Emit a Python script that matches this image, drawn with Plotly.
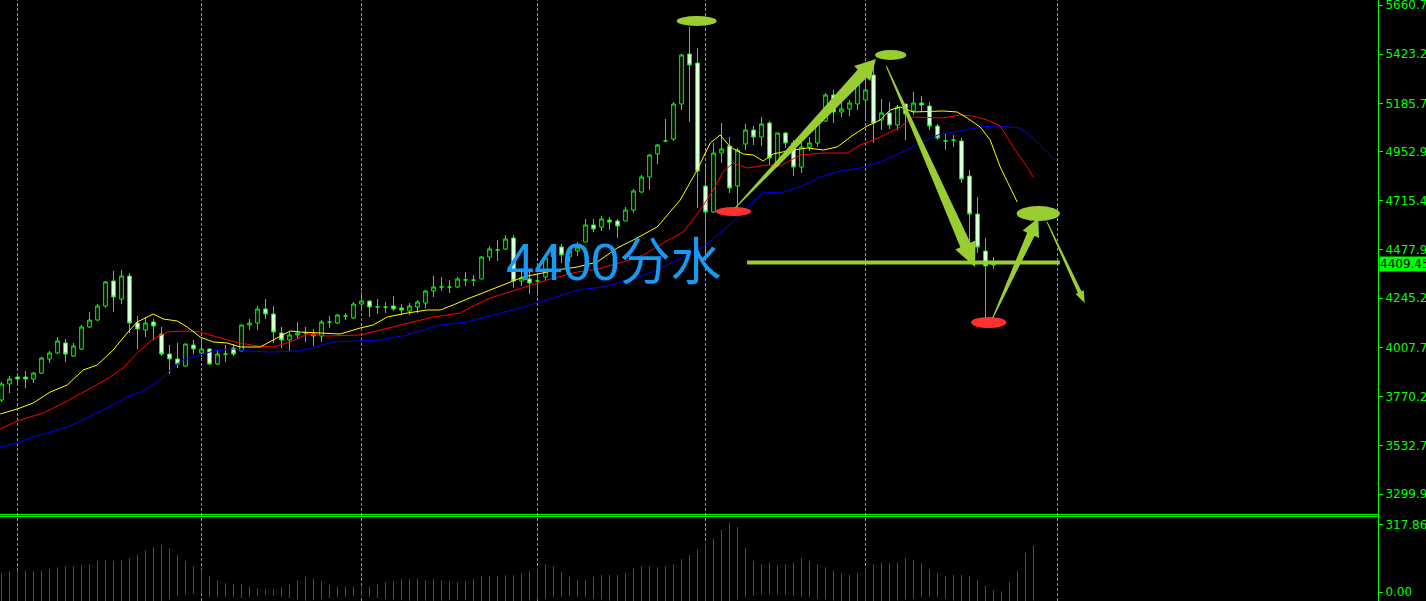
import math
import plotly.graph_objects as go

# ---------------- data ----------------
open_ = [3753.7,3831.0,3864.8,3864.8,3855.1,3884.1,3951.7,3980.6,4028.9,3966.1,
         3999.9,4106.2,4140.0,4207.5,4328.3,4241.4,4352.4,4125.5,4091.7,4130.3,
         4072.4,3975.8,3951.7,3917.9,4019.3,3980.6,3999.9,3927.5,3975.8,4004.8,
         3990.3,4115.9,4125.5,4193.1,4168.9,4077.2,4043.4,4067.6,4077.2,4062.7,
         4062.7,4130.3,4125.5,4159.2,4149.6,4217.2,4231.7,4202.7,4202.7,4207.5,
         4197.9,4183.4,4202.7,4222.0,4280.0,4299.3,4299.3,4299.3,4333.1,4333.1,
         4337.9,4444.1,4477.9,4482.8,4535.8,4328.3,4337.9,4328.3,4347.6,4444.1,
         4492.4,4444.1,4473.1,4516.5,4598.6,4589.0,4622.7,4617.9,4617.9,4671.0,
         4757.9,4830.4,4941.4,5004.2,5013.8,5182.8,5424.1,5380.7,4786.9,4661.4,
         4946.2,4980.0,4786.9,4989.7,5057.2,5023.4,5091.0,4888.2,5042.8,4994.5,
         4878.6,4975.2,4994.5,5100.7,5226.2,5144.2,5158.6,5182.8,5202.1,5322.8,
         5105.5,5139.3,5081.4,5182.8,5149.0,5187.6,5173.1,5076.5,5004.2,5009.0,
         5004.2,4835.2,4651.7,4473.1,4405.5]
high = [3840.7,3869.6,3879.3,3893.8,3888.9,3961.3,3990.3,4057.9,4048.3,4028.9,
        4115.9,4178.5,4217.2,4328.3,4376.6,4381.4,4366.9,4159.2,4154.4,4144.8,
        4106.2,4019.3,4028.9,4024.1,4043.4,4043.4,4004.8,3990.3,4019.3,4024.1,
        4115.9,4144.8,4207.5,4241.4,4207.5,4106.2,4086.9,4130.3,4106.2,4096.6,
        4140.0,4159.2,4168.9,4173.7,4226.8,4275.2,4231.7,4241.4,4226.8,4255.8,
        4217.2,4222.0,4236.5,4284.8,4352.4,4347.6,4333.1,4347.6,4371.7,4357.3,
        4448.9,4497.2,4526.2,4550.3,4550.3,4391.0,4371.7,4366.9,4458.6,4497.2,
        4506.9,4487.6,4516.5,4627.6,4627.6,4642.1,4637.3,4627.6,4685.5,4772.4,
        4840.0,4941.4,4989.7,5110.3,5192.4,5425.0,5554.5,5453.1,4883.4,4994.5,
        5091.0,5023.4,4970.4,5086.2,5076.5,5120.0,5100.7,5042.8,5047.6,5009.0,
        5013.8,5023.4,5115.2,5235.9,5250.3,5211.7,5202.1,5298.6,5298.6,5395.2,
        5206.9,5192.4,5177.9,5182.8,5240.7,5221.4,5192.4,5086.2,5038.0,5033.1,
        5018.6,4864.1,4733.8,4535.8,4444.1]
low = [3744.0,3787.5,3835.8,3811.7,3835.8,3879.3,3932.3,3975.8,3937.2,3961.3,
       3995.1,4101.4,4135.2,4197.9,4178.5,4217.2,4077.2,3999.9,4057.9,4043.4,
       3966.1,3879.3,3908.2,3917.9,3975.8,3961.3,3922.7,3922.7,3937.2,3966.1,
       3990.3,4091.7,4091.7,4144.8,4028.9,4004.8,3990.3,4048.3,4033.8,4014.4,
       4033.8,4101.4,4120.7,4140.0,4144.8,4188.2,4154.4,4168.9,4173.7,4183.4,
       4164.1,4164.1,4173.7,4197.9,4251.0,4280.0,4270.3,4294.5,4304.1,4304.1,
       4337.9,4424.8,4424.8,4477.9,4294.5,4304.1,4265.5,4270.3,4333.1,4434.5,
       4415.2,4420.0,4448.9,4516.5,4564.8,4569.6,4574.5,4535.8,4617.9,4656.5,
       4753.1,4767.6,4893.1,4999.3,5004.2,5153.8,5095.9,4680.7,4429.6,4656.5,
       4897.9,4753.1,4671.0,4960.7,4984.8,4980.0,4888.2,4878.6,4970.4,4835.2,
       4849.6,4955.9,4975.2,5095.9,5091.0,5120.0,5124.8,5153.8,5115.2,4994.5,
       5057.2,5062.0,5057.2,5009.0,5129.7,5144.2,5057.2,5009.0,4960.7,4975.2,
       4801.4,4502.0,4463.4,4101.4,4386.2]
close = [3831.0,3855.1,3855.1,3855.1,3884.1,3956.5,3980.6,4038.6,3975.8,4014.4,
         4106.2,4140.0,4207.5,4323.4,4251.0,4352.4,4125.5,4096.6,4125.5,4111.0,
         3975.8,3951.7,3927.5,4024.1,3999.9,3999.9,3927.5,3975.8,3975.0,3975.8,
         4115.9,4125.5,4193.1,4168.9,4082.0,4043.4,4067.6,4077.2,4077.7,4072.4,
         4130.3,4130.8,4164.1,4159.7,4217.2,4231.7,4202.7,4203.2,4202.2,4193.1,
         4188.2,4207.5,4226.8,4280.0,4299.3,4299.8,4298.8,4337.9,4333.6,4332.6,
         4444.1,4482.8,4478.4,4531.0,4328.3,4342.8,4318.6,4328.8,4439.3,4482.8,
         4453.8,4473.1,4492.4,4598.6,4579.3,4627.6,4613.1,4593.8,4671.0,4762.8,
         4830.4,4936.6,4984.8,5004.7,5182.8,5419.3,5371.0,4859.3,4661.4,4946.2,
         4965.5,4777.2,4960.7,5057.2,5023.4,5086.2,4922.0,5042.8,4994.5,4878.6,
         4975.2,4994.5,5105.5,5226.2,5144.2,5158.6,5187.6,5279.3,5250.3,5091.0,
         5139.3,5081.4,5168.3,5134.5,5187.6,5177.9,5076.5,5018.6,5004.7,5008.5,
         4820.7,4651.7,4492.4,4400.7,4409.45]

# Alligator-style moving averages (bar index, price)
lips_idx = [-0.16,1.96,3.96,6.09,8.21,10.21,11.96,13.96,15.71,16.96,18.21,18.96,20.21,21.96,23.21,24.84,
            26.46,28.21,29.84,32.34,33.96,36.09,37.34,39.84,42.34,44.84,46.46,48.21,50.71,53.21,54.84,
            56.46,58.21,61.09,65.21,69.46,71.96,74.46,76.96,78.96,81.96,84.84,86.96,88.59,89.84,91.09,
            92.71,93.96,95.21,96.46,98.21,100.71,102.71,104.46,106.46,108.21,109.84,111.09,112.34,113.96,
            117.71,119.46,120.71,122.34,123.59,124.84,126.09,126.96]
lips_val = [3686.2,3710.3,3739.2,3792.4,3826.1,3898.6,3922.7,3995.1,4077.2,4130.3,4154.4,4168.9,4144.8,
            4135.2,4106.2,4057.9,4033.8,4028.9,4009.6,4009.6,4043.4,4086.9,4082.0,4077.2,4072.4,4101.4,
            4115.9,4154.4,4173.7,4188.2,4188.2,4212.4,4241.4,4284.8,4347.6,4381.4,4395.8,4420.0,4487.6,
            4526.2,4589.0,4719.3,4864.1,4994.5,5033.1,4975.2,4941.4,4936.6,4907.6,4941.4,4955.9,4970.4,
            4960.7,4975.2,5033.1,5076.5,5105.5,5153.8,5168.3,5144.2,5149.0,5144.2,5115.2,5071.7,5009.0,
            4878.6,4782.1,4709.7]
teeth_idx = [-0.16,1.96,5.21,8.21,10.71,13.59,15.21,16.96,18.96,20.71,22.71,24.84,26.09,28.21,29.84,31.96,
             33.96,36.09,38.21,40.71,44.84,47.34,50.71,53.96,57.34,58.96,61.09,65.21,68.21,71.96,74.46,
             77.71,80.21,82.71,85.21,87.34,88.96,90.21,91.46,93.21,95.71,97.34,99.84,102.71,105.71,107.34,
             109.84,112.34,113.96,117.71,119.84,121.46,123.21,124.84,126.46,128.21,128.96]
teeth_val = [3613.8,3652.4,3691.0,3748.9,3802.0,3864.8,3908.2,3980.6,4048.3,4082.0,4086.9,4082.0,4067.6,
             4043.4,4028.9,4014.4,4009.6,4033.8,4072.4,4062.7,4067.6,4091.7,4125.5,4154.4,4173.7,4207.5,
             4246.2,4294.5,4333.1,4371.7,4386.2,4420.0,4453.8,4511.7,4564.8,4671.0,4767.6,4854.5,4897.9,
             4873.8,4888.2,4883.4,4936.6,4946.2,4946.2,4984.8,5023.4,5071.7,5120.0,5115.2,5129.7,5124.8,
             5105.5,5076.5,4975.2,4878.6,4830.4]
jaw_idx = [-0.16,1.96,3.96,6.09,8.21,10.71,13.21,15.71,17.71,19.84,21.46,22.71,23.96,26.46,28.96,30.71,
           33.59,37.34,41.46,47.34,50.71,54.84,58.21,61.46,64.84,68.96,71.96,75.21,78.59,81.96,84.46,87.71,
           90.71,93.21,95.21,97.34,99.84,102.34,104.84,107.34,109.84,112.34,114.84,117.34,119.84,122.34,
           124.46,127.34,128.96,130.71,131.96]
jaw_val = [3526.8,3546.1,3575.1,3599.2,3623.4,3666.8,3715.1,3768.2,3797.2,3850.3,3913.1,3946.8,3961.3,
           3990.3,3999.9,3990.3,3985.5,3990.3,4033.8,4043.4,4067.6,4115.9,4130.3,4164.1,4197.9,4246.2,
           4284.8,4299.3,4333.1,4381.4,4429.6,4492.4,4589.0,4685.5,4757.9,4753.1,4782.1,4830.4,4859.3,
           4873.8,4902.8,4946.2,4994.5,5038.0,5052.4,5071.7,5076.5,5066.9,5018.6,4951.0,4902.8]

# lower-panel oscillator (upper / lower histograms) and their colours
osc_up = [89,97,102,102,97,102,107,116,121,121, 126,130,145,149,145,149,159,177,196,210,
          220,206,173,145,121,107,74,55,41,36, 36,27,17,13,13,22,36,55,69,64,
          50,31,27,27,27,24,27,36,46,50, 60,60,64,55,60,55,50,46,50,60,
          74,74,74,79,79,86,101,116,130,121, 96,72,57,57,72,81,81,81,91,111,
          121,121,116,121,130,155,174,199,233,252, 292,326,306,209,145,130,140,125,130,140,
          160,145,130,116,101,86,81,91,116,130, 140,135,140,160,150,135,106,91,77,81,
          81,77,57,28,8,3,47,101,184,218]
osc_up_col = list("gggrrggggr" "ggggrggggg" "grrrrrrrrr" "rrrrgggggr" "rrrrrrgggg"
                  "gggrgrrrgg" "gggggggggr" "rrrggggggg" "ggrggggggg" "ggrrrrgrgg"
                  "grrrrrrggg" "grggrrrrrg" "grrrrggggg")
osc_dn = [55,52,50,48,46,45,44,44,46,48, 50,52,55,57,58,60,62,60,55,50,
          45,35,20,12,8,8,24,24,22,25, 28,25,20,15,18,22,28,35,40,38,
          32,28,25,22,20,22,25,28,32,35, 38,40,42,40,42,40,38,36,38,42,
          48,52,55,55,50,45,40,35,30,25, 22,20,22,25,30,35,40,45,50,55,
          60,65,70,75,80,90,100,110,90,70, 55,45,35,25,18,12,10,12,15,18,
          22,25,30,35,40,45,50,55,60,55, 50,45,40,35,30,25,22,25,30,40,
          55,70,90,100,110,120,100,80,60,40]
osc_dn_col = list("grrgggrrgg" "grrgrgggrr" "rggggggggg" "gggggggrrg" "gggggggggr"
                  "rrrggggggr" "rgrggggrrg" "ggggrggggr" "rgrggggggg" "rrgggggggr"
                  "rgggggggrr" "ggrrgggggr" "gggggggggg")

price_ticks = [5660.70, 5423.20, 5185.70, 4952.95, 4715.45, 4477.95, 4245.20, 4007.70, 3770.20, 3532.70, 3299.95]
osc_ticks = [317.865, 0.0]
grid_idx = [2, 25, 45, 67, 88, 108, 132]
last_price = 4409.45
level_price = 4418
label_text = "4400分水"

# ---------------- layout constants ----------------
W, H = 1426, 601
MR = 48
PW = W - MR
XR = [-0.1875, -0.1875 + PW / 8.0]
MAIN_DOM = [1 - 513 / 601, 1]
VOL_DOM = [0, 84 / 601]
YR = [3208.23, 5684.84]
VR = [-42.4, 353.3]
MAIN_H = (MAIN_DOM[1] - MAIN_DOM[0]) * H

GREEN = "#00ff00"
ANNO = "#9acd32"
REDE = "#ff3030"


def to_px(i, p):
    return (i - XR[0]) / (XR[1] - XR[0]) * PW, (YR[1] - p) / (YR[1] - YR[0]) * MAIN_H


def to_data(x, y):
    return XR[0] + x / PW * (XR[1] - XR[0]), YR[1] - y / MAIN_H * (YR[1] - YR[0])


def arrow_path(i0, p0, i1, p1, w0, w1, hw, hl):
    x0, y0 = to_px(i0, p0)
    x1, y1 = to_px(i1, p1)
    dx, dy = x1 - x0, y1 - y0
    L = math.hypot(dx, dy)
    ux, uy = dx / L, dy / L
    nx, ny = -uy, ux
    bx, by = x1 - ux * hl, y1 - uy * hl
    pts = [(x0 + nx * w0 / 2, y0 + ny * w0 / 2), (bx + nx * w1 / 2, by + ny * w1 / 2),
           (bx + nx * hw / 2, by + ny * hw / 2), (x1, y1),
           (bx - nx * hw / 2, by - ny * hw / 2), (bx - nx * w1 / 2, by - ny * w1 / 2),
           (x0 - nx * w0 / 2, y0 - ny * w0 / 2)]
    d = []
    for k, (px, py) in enumerate(pts):
        a, b = to_data(px, py)
        d.append(("M" if k == 0 else "L") + f"{a:.4f},{b:.3f}")
    return " ".join(d) + " Z"


fig = go.Figure()

fig.add_trace(go.Candlestick(
    x=list(range(len(open_))), open=open_, high=high, low=low, close=close,
    increasing=dict(line=dict(color=GREEN, width=1), fillcolor="#000000"),
    decreasing=dict(line=dict(color=GREEN, width=1), fillcolor="#ffffff"),
    whiskerwidth=0, showlegend=False, hoverinfo="skip", xaxis="x", yaxis="y"))

for xs, ys, col in [(jaw_idx, jaw_val, "#0000ff"), (teeth_idx, teeth_val, "#ff0000"), (lips_idx, lips_val, "#ffff00")]:
    fig.add_trace(go.Scatter(x=xs, y=ys, mode="lines", line=dict(color=col, width=1),
                             showlegend=False, hoverinfo="skip", xaxis="x", yaxis="y"))


def segs(vals, cols, want, sign):
    xs, ys = [], []
    for i, (v, c) in enumerate(zip(vals, cols)):
        if c == want:
            xs += [i, i, None]
            ys += [0, sign * v, None]
    return xs, ys


for vals, cols, sign in [(osc_dn, osc_dn_col, -1), (osc_up, osc_up_col, 1)]:
    for want, col in [("g", "#008000"), ("r", "#ff0000")]:
        xs, ys = segs(vals, cols, want, sign)
        fig.add_trace(go.Scatter(x=xs, y=ys, mode="lines", line=dict(color=col, width=1),
                                 showlegend=False, hoverinfo="skip", xaxis="x", yaxis="y2"))

shapes = []
for g in grid_idx:
    shapes.append(dict(type="line", xref="x", yref="paper", x0=g, x1=g, y0=0, y1=1,
                       line=dict(color=GREEN, width=1, dash="3px,2px"), layer="below"))
for yy in (514.5, 516.5):
    shapes.append(dict(type="line", xref="paper", yref="paper", x0=0, x1=1, y0=1 - yy / H, y1=1 - yy / H,
                       line=dict(color=GREEN, width=1)))
shapes.append(dict(type="line", xref="paper", yref="paper", x0=(PW + 0.5) / PW, x1=(PW + 0.5) / PW, y0=0, y1=1,
                   line=dict(color=GREEN, width=1)))

# hand-drawn annotations
shapes.append(dict(type="line", xref="x", yref="y", x0=93.2, x1=132.3, y0=level_price, y1=level_price,
                   line=dict(color=ANNO, width=4)))
for (a0, a1, b0, b1, col) in [(84.4, 89.4, 5559.3, 5607.6, ANNO), (109.2, 113.1, 5395.2, 5443.5, ANNO),
                              (89.3, 93.7, 4642.0, 4685.5, REDE), (126.9, 132.3, 4617.9, 4690.3, ANNO),
                              (121.2, 125.6, 4101.4, 4154.4, REDE)]:
    shapes.append(dict(type="circle", xref="x", yref="y", x0=a0, x1=a1, y0=b0, y1=b1,
                       fillcolor=col, line=dict(width=0)))
for args in [(91.7, 4680.7, 109.3, 5400.0, 1, 12, 22, 20),
             (110.6, 5366.2, 121.7, 4395.8, 1, 11, 22, 24),
             (123.9, 4149.6, 129.6, 4632.5, 1, 8, 18, 18),
             (130.7, 4613.1, 135.4, 4222.0, 1, 4, 9, 12)]:
    shapes.append(dict(type="path", xref="x", yref="y", path=arrow_path(*args),
                       fillcolor=ANNO, line=dict(width=0)))

annotations = [
    dict(x=76.5, y=4420, xref="x", yref="y", text=label_text, showarrow=False,
         font=dict(family="Liberation Sans, Noto Sans CJK SC", size=51, color="#169bf5"),
         xanchor="center", yanchor="middle"),
    dict(x=1, y=last_price, xref="paper", yref="y", text=f"{last_price:.2f}", showarrow=False,
         xanchor="left", yanchor="middle", xshift=1, bgcolor=GREEN, borderpad=0,
         font=dict(family="DejaVu Sans", size=12, color="#000000")),
]

axis_font = dict(family="DejaVu Sans", size=12, color=GREEN)
fig.update_layout(
    width=W, height=H, template="none",
    margin=dict(l=0, r=MR, t=0, b=0),
    paper_bgcolor="#000000", plot_bgcolor="#000000",
    showlegend=False, boxgap=0.35,
    xaxis=dict(range=XR, visible=False, rangeslider=dict(visible=False), anchor="y2"),
    yaxis=dict(domain=MAIN_DOM, range=YR, side="right", tickvals=price_ticks,
               ticktext=[f"{v:.2f}" for v in price_ticks], tickfont=axis_font,
               ticks="outside", ticklen=4, tickcolor=GREEN, showgrid=False, zeroline=False,
               showline=False, automargin=False, anchor="x", ticklabeloverflow="allow"),
    yaxis2=dict(domain=VOL_DOM, range=VR, side="right", tickvals=osc_ticks,
                ticktext=["317.865", "0.00"], tickfont=axis_font,
                ticks="outside", ticklen=4, tickcolor=GREEN, showgrid=False, zeroline=False,
                showline=False, automargin=False, anchor="x", ticklabeloverflow="allow"),
    shapes=shapes, annotations=annotations,
)

fig.write_html("out.html", config={"displayModeBar": False},
               post_script="document.body.style.margin='0';document.body.style.background='#000';")
